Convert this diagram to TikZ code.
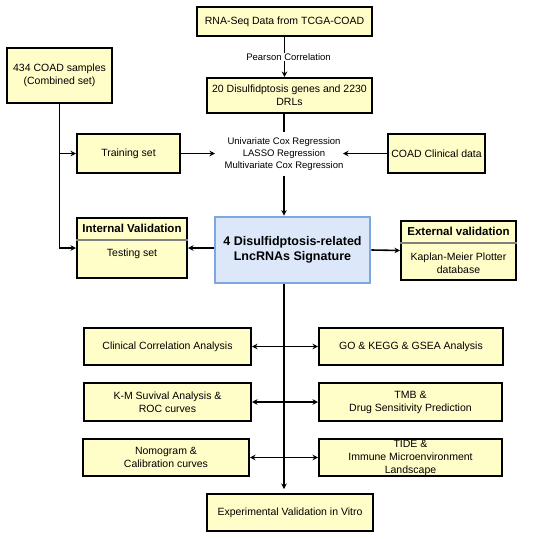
\documentclass[tikz,border=0pt]{standalone}
\usepackage{fontspec}
\setmainfont{Liberation Sans}
\usetikzlibrary{arrows.meta}
\definecolor{boxyellow}{HTML}{FFFDC8}
\definecolor{sigfill}{HTML}{DCE8FA}
\definecolor{sigdraw}{HTML}{7EA6E0}
\definecolor{divgray}{HTML}{808080}
\tikzset{
  box/.style={draw=black, line width=2pt, fill=boxyellow, inner sep=1pt,
    align=center, font=\fontsize{10.5}{13}\selectfont},
  sigbox/.style={draw=sigdraw, line width=2.8pt, fill=sigfill, inner sep=1pt,
    align=center, font=\bfseries\fontsize{12.5}{15}\selectfont},
  plain/.style={align=center, inner sep=0pt, font=\fontsize{10.5}{13}\selectfont},
  head/.style={align=center, inner sep=0pt, font=\bfseries\fontsize{11.5}{14}\selectfont},
  small/.style={align=center, font=\fontsize{9.5}{12}\selectfont},
  conn/.style={line width=1.6pt},
  arr/.style={conn, -{Stealth[length=5.5pt,width=5.5pt]}},
  darr/.style={conn, {Stealth[length=5.5pt,width=5.5pt]}-{Stealth[length=5.5pt,width=5.5pt]}},
  divider/.style={draw=divgray, line width=1.2pt}
}
\begin{document}
\begin{tikzpicture}[x=1pt,y=-1pt]
\useasboundingbox (0,0) rectangle (550,539);
% top chain
\node[box, minimum width=175pt, minimum height=29pt] (rna) at (284.5,21.5) {RNA-Seq Data from TCGA-COAD};
\node[box, minimum width=165pt, minimum height=35pt] (drl) at (289.5,95.5) {20 Disulfidptosis genes and 2230\\DRLs};
\node[box, minimum width=105pt, minimum height=55pt] (comb) at (59.5,75.5) {434 COAD samples\\(Combined set)};
\node[box, minimum width=103pt, minimum height=39pt] (train) at (128.5,153.5) {Training set};
\node[box, minimum width=97pt, minimum height=39pt] (clin) at (436.5,153.5) {COAD Clinical data};
\node[small, inner xsep=0pt, inner ysep=5pt] (reg) at (284,154) {Univariate Cox Regression\\LASSO Regression\\Multivariate Cox Regression};
\coordinate (regL) at (215,153.5);
\coordinate (regR) at (343,153.5);
% signature row
\node[sigbox, minimum width=155pt, minimum height=66pt] (sig) at (292.5,250) {4 Disulfidptosis-related\\LncRNAs Signature};
\node[box, minimum width=110pt, minimum height=60pt] (intv) at (132,248) {};
\draw[divider] ([yshift=-23pt]intv.north west) -- ([yshift=-23pt]intv.north east);
\node[head] (intvh) at ([yshift=-11pt]intv.north) {Internal Validation};
\node[plain] (intvb) at (132,254) {Testing set};
\node[box, minimum width=115pt, minimum height=59pt] (extv) at (458.5,250.5) {};
\draw[divider] ([yshift=-23pt]extv.north west) -- ([yshift=-23pt]extv.north east);
\node[head] (extvh) at ([yshift=-11pt]extv.north) {External validation};
\node[plain] (extvb) at (458.5,263.5) {Kaplan-Meier Plotter\\database};
% analysis boxes
\node[box, minimum width=167pt, minimum height=37pt] (cca) at (167.5,346.5) {Clinical Correlation Analysis};
\node[box, minimum width=184pt, minimum height=37pt] (go) at (411,346.5) {GO \& KEGG \& GSEA Analysis};
\node[box, minimum width=167pt, minimum height=38pt] (km) at (167.5,402) {K-M Suvival Analysis \&\\ROC curves};
\node[box, minimum width=183pt, minimum height=38pt] (tmb) at (410.5,402) {TMB \&\\Drug Sensitivity Prediction};
\node[box, minimum width=166pt, minimum height=37pt] (nomo) at (166,457.5) {Nomogram \&\\Calibration curves};
\node[box, minimum width=183pt, minimum height=37pt] (tide) at (410.5,457.5) {TIDE \&\\Immune Microenvironment\\Landscape};
\node[box, minimum width=166pt, minimum height=37pt] (exp) at (290,512.5) {Experimental Validation in Vitro};
% connectors
\draw[arr] (rna.south) -- (rna.south |- drl.north)
  node[midway, small, fill=white, inner sep=1pt, xshift=4pt] (pear) {Pearson Correlation};
\draw[conn] (drl.south -| reg.north) -- (reg.north);
\draw[arr] (reg.south) -- (reg.south |- sig.north);
\draw[arr] (train.east) -- (regL);
\draw[arr] (clin.west) -- (regR);
\draw[arr] (comb.south) |- (intv.west);
\draw[arr] (comb.south |- train.west) -- (train.west);
\draw[arr] (sig.west |- intv.east) -- (intv.east);
\draw[arr] (sig.east) -- (extv.west);
\draw[arr] (sig.south -| reg.south) -- ([yshift=4pt]exp.north -| reg.south);
\draw[darr] (cca.east) -- (go.west);
\draw[darr] (km.east) -- (tmb.west);
\draw[darr] (nomo.east) -- (tide.west);
\end{tikzpicture}
\end{document}
